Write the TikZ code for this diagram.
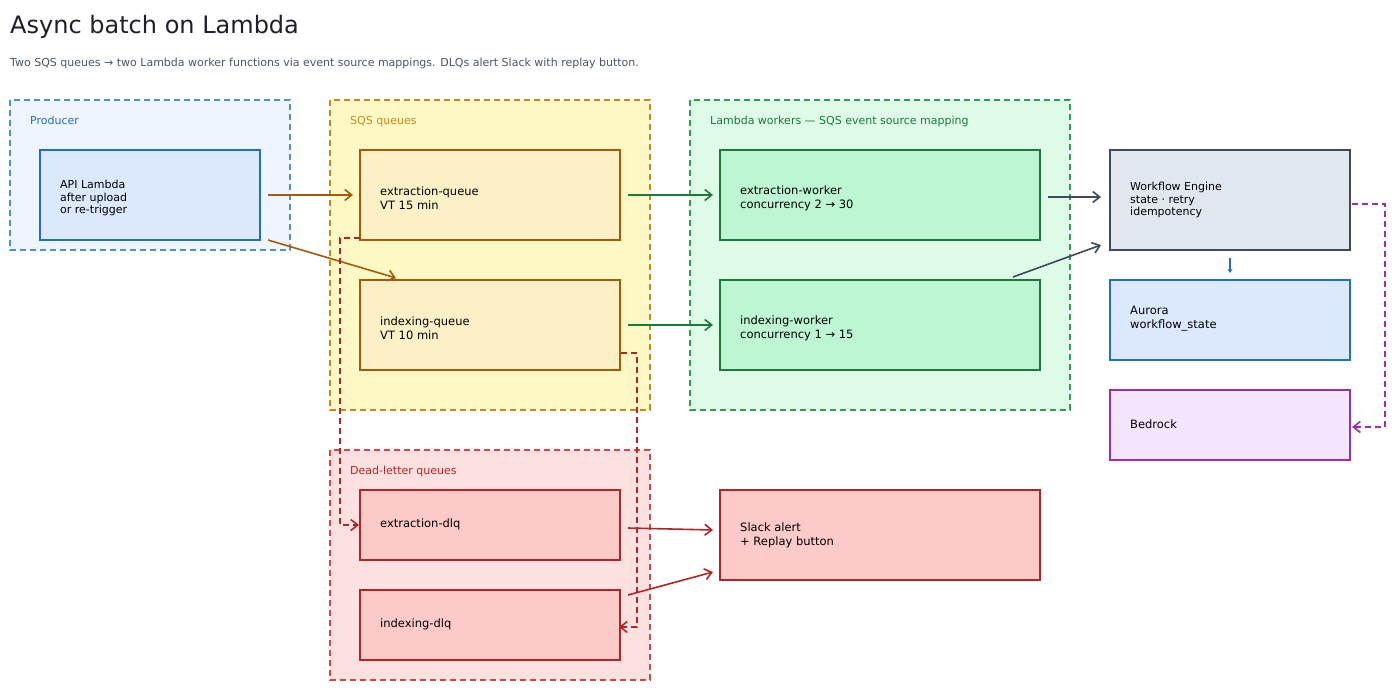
\documentclass[tikz,border=0pt]{standalone}
\usepackage{fontspec}
\setmainfont{DejaVu Sans}
\usetikzlibrary{arrows.meta}
\definecolor{pbF}{HTML}{EEF5FF}\definecolor{pbS}{HTML}{4A90D9}
\definecolor{bF}{HTML}{DBE8FD}\definecolor{bS}{HTML}{1F6FC5}
\definecolor{ygF}{HTML}{FEF8C5}\definecolor{ygS}{HTML}{C9891A}
\definecolor{yF}{HTML}{FDF0C6}\definecolor{yS}{HTML}{A45A0A}
\definecolor{ggF}{HTML}{DDFBE6}\definecolor{ggS}{HTML}{2E9E50}
\definecolor{gF}{HTML}{BDF6D2}\definecolor{gS}{HTML}{1A7A3A}
\definecolor{sF}{HTML}{E1E7EF}\definecolor{sS}{HTML}{3D4A5C}
\definecolor{pF}{HTML}{F3E5FD}\definecolor{pS}{HTML}{9A2DB5}
\definecolor{rgF}{HTML}{FDE1E1}\definecolor{rgS}{HTML}{D94545}
\definecolor{rF}{HTML}{FDCACA}\definecolor{rS}{HTML}{B52424}
\definecolor{titleC}{HTML}{1E1E2E}\definecolor{subC}{HTML}{4A5568}
\tikzset{
 grp/.style={draw=#1S,fill=#1F,dashed,dash pattern=on 6pt off 4pt,line width=1.2pt},
 bx/.style={draw=#1S,fill=#1F,line width=1.2pt},
 lbl/.style={anchor=north west,font=\fontsize{11}{13}\selectfont,align=left,inner sep=0pt},
 txt/.style={anchor=west,font=\fontsize{11.5}{14}\selectfont,align=left,inner sep=0pt},
 arr/.style={draw=#1,line width=1.6pt,-{Straight Barb[length=7pt,width=11pt]}},
}
\begin{document}
\begin{tikzpicture}[x=1pt,y=-1pt]
\useasboundingbox[fill=white] (0,0) rectangle (1398,690);
\node[anchor=west,font=\fontsize{24}{28}\selectfont,text=titleC,inner sep=0pt] (title) at (10,27) {Async batch on Lambda};
\node[anchor=west,font=\fontsize{11}{13}\selectfont,text=subC,inner sep=0pt] (sub) at (10,63) {Two SQS queues → two Lambda worker functions via event source mappings. DLQs alert Slack with replay button.};
% groups
\draw[grp=pb] (10,100) rectangle (290,250);
\node[lbl,text=bS] (gl1) at (30,116) {Producer};
\draw[grp=yg] (330,100) rectangle (650,410);
\node[lbl,text=ygS] (gl2) at (350,116) {SQS queues};
\draw[grp=gg] (690,100) rectangle (1070,410);
\node[lbl,text=gS] (gl3) at (710,116) {Lambda workers — SQS event source mapping};
\draw[grp=rg] (330,450) rectangle (650,680);
\node[lbl,text=rS] (gl4) at (350,466) {Dead-letter queues};
% boxes
\draw[bx=b] (40,150) rectangle (260,240); \coordinate (api) at (40,150);
\node[txt,font=\fontsize{11}{12.5}\selectfont] (apit) at (60,198) {API Lambda\\after upload\\or re-trigger};
\draw[bx=y] (360,150) rectangle (620,240);
\node[txt] (eqt) at (380,198) {extraction-queue\\VT 15 min};
\draw[bx=y] (360,280) rectangle (620,370);
\node[txt] (iqt) at (380,328) {indexing-queue\\VT 10 min};
\draw[bx=g] (720,150) rectangle (1040,240);
\node[txt] (ewt) at (740,198) {extraction-worker\\concurrency 2 → 30};
\draw[bx=g] (720,280) rectangle (1040,370);
\node[txt] (iwt) at (740,328) {indexing-worker\\concurrency 1 → 15};
\draw[bx=s] (1110,150) rectangle (1350,250);
\node[txt,font=\fontsize{11}{12.5}\selectfont] (wet) at (1130,200) {Workflow Engine\\state · retry\\idempotency};
\draw[bx=b] (1110,280) rectangle (1350,360);
\node[txt] (aut) at (1130,319) {Aurora\\workflow\_state};
\draw[bx=p] (1110,390) rectangle (1350,460);
\node[txt] (bdt) at (1130,424) {Bedrock};
\draw[bx=r] (360,490) rectangle (620,560);
\node[txt] (edt) at (380,524) {extraction-dlq};
\draw[bx=r] (360,590) rectangle (620,660);
\node[txt] (idt) at (380,624) {indexing-dlq};
\draw[bx=r] (720,490) rectangle (1040,580);
\node[txt] (slt) at (740,535) {Slack alert\\+ Replay button};
% coordinates for connectors
\coordinate (a1) at (268,195); \coordinate (eqIn) at (353,195);
\coordinate (a2) at (268,240); \coordinate (iqIn) at (396,278);
\coordinate (eqOut) at (628,195); \coordinate (ewIn) at (713,195);
\coordinate (iqOut) at (628,325); \coordinate (iwIn) at (713,325);
\coordinate (ewOut) at (1048,197); \coordinate (weIn1) at (1101,197);
\coordinate (iwOut) at (1013,277); \coordinate (weIn2) at (1101,245);
\coordinate (weB) at (1230,258); \coordinate (auT) at (1230,273);
\coordinate (weR) at (1352,204); \coordinate (bdR) at (1352,427);
\coordinate (eqL) at (360,238); \coordinate (edL) at (359,525);
\coordinate (iqR) at (621,353); \coordinate (idR) at (619,627);
\coordinate (edOut) at (628,528); \coordinate (slIn1) at (713,530);
\coordinate (idOut) at (628,595); \coordinate (slIn2) at (713,572);
\draw[arr=yS] (a1) -- (eqIn);
\draw[arr=yS] (a2) -- (iqIn);
\draw[arr=gS] (eqOut) -- (ewIn);
\draw[arr=gS] (iqOut) -- (iwIn);
\draw[arr=sS] (ewOut) -- (weIn1);
\draw[arr=sS] (iwOut) -- (weIn2);
\draw[draw=bS,line width=1.2pt,-{Stealth[length=4pt,width=5pt]}] (weB) -- (auT);
\draw[arr=pS,dashed,dash pattern=on 6pt off 4pt] (weR) -- (1385,204) -- (1385,427) -- (bdR);
\draw[arr=rS,dashed,dash pattern=on 6pt off 4pt] (eqL) -- (340,238) -- (340,525) -- (edL);
\draw[arr=rS,dashed,dash pattern=on 6pt off 4pt] (iqR) -- (637,353) -- (637,627) -- (idR);
\draw[arr=rS] (edOut) -- (slIn1);
\draw[arr=rS] (idOut) -- (slIn2);
\end{tikzpicture}
\end{document}
